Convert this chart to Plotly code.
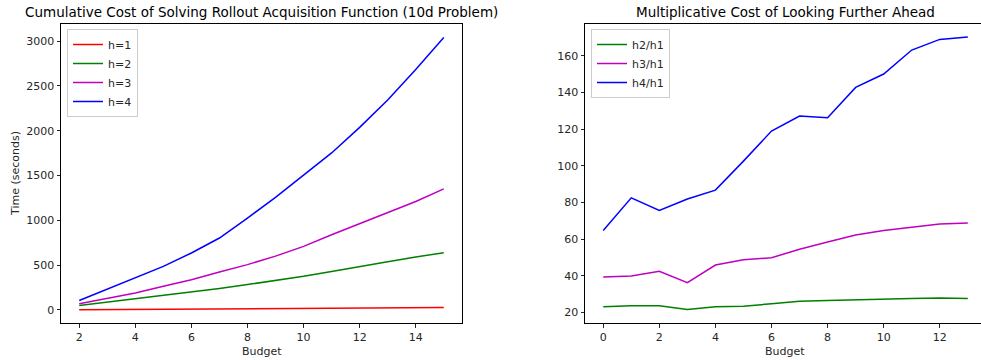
import plotly.graph_objects as go

# ---- data ----
budget = list(range(2, 16))
h1 = [1.6, 3.2, 4.8, 6.4, 8.1, 9.7, 11.6, 13.4, 15.4, 17.1, 19.0, 20.9, 22.9, 25.0]
h2 = [48, 85, 122, 158, 196, 238, 282, 327, 374, 428, 486, 538, 590, 638]
h3 = [67, 130, 189, 263, 337, 423, 505, 600, 709, 839, 961, 1088, 1210, 1351]
h4 = [104, 234, 356, 486, 635, 802, 1025, 1255, 1504, 1752, 2038, 2343, 2685, 3041]

steps = list(range(0, 14))
r2 = [23.1, 23.6, 23.6, 21.6, 23.1, 23.3, 24.7, 26.0, 26.5, 26.7, 27.1, 27.5, 27.8, 27.6]
r3 = [39.3, 39.8, 42.4, 36.2, 45.8, 48.7, 49.8, 54.4, 58.4, 62.2, 64.7, 66.5, 68.2, 68.7]
r4 = [64.7, 82.5, 75.6, 81.8, 86.7, 102.5, 118.9, 127.1, 126.2, 142.7, 150.0, 163.1, 168.9, 170.2]

left_names = ["h=1", "h=2", "h=3", "h=4"]
right_names = ["h2/h1", "h3/h1", "h4/h1"]

FONT = "DejaVu Sans"
TXT = "#262626"

fig = go.Figure()
for name, ys, col in zip(left_names, [h1, h2, h3, h4], ["#ff0000", "#008000", "#bf00bf", "#0000ff"]):
    fig.add_trace(go.Scatter(x=budget, y=ys, name=name, mode="lines",
                             line=dict(color=col, width=1.5), xaxis="x", yaxis="y", legend="legend"))
for name, ys, col in zip(right_names, [r2, r3, r4], ["#008000", "#bf00bf", "#0000ff"]):
    fig.add_trace(go.Scatter(x=steps, y=ys, name=name, mode="lines",
                             line=dict(color=col, width=1.5), xaxis="x2", yaxis="y2", legend="legend2"))

W, H = 981, 360
ax_common = dict(showgrid=False, zeroline=False, showline=True, linecolor="black", linewidth=1,
                 ticks="outside", ticklen=3.5, tickwidth=0.8, tickcolor=TXT,
                 tickfont=dict(family=FONT, size=11, color=TXT))

fig.update_layout(
    width=W, height=H, margin=dict(l=0, r=0, t=0, b=0),
    paper_bgcolor="white", plot_bgcolor="white",
    font=dict(family=FONT, color=TXT),
    xaxis=dict(domain=[61 / W, 462 / W], range=[1.35, 15.65], tickvals=[2, 4, 6, 8, 10, 12, 14],
               mirror=True, anchor="y", **ax_common),
    yaxis=dict(domain=[37 / H, 336 / H], range=[-147, 3192], tickvals=[0, 500, 1000, 1500, 2000, 2500, 3000],
               mirror=True, anchor="x", **ax_common),
    xaxis2=dict(domain=[585 / W, 1.0], range=[-0.65, 13.47], tickvals=[0, 2, 4, 6, 8, 10, 12],
                mirror=True, anchor="y2", **ax_common),
    yaxis2=dict(domain=[37 / H, 336 / H], range=[14.2, 177.3], tickvals=[20, 40, 60, 80, 100, 120, 140, 160],
                mirror=False, anchor="x2", **ax_common),
    legend=dict(x=67 / W, y=1 - 29 / H, xanchor="left", yanchor="top",
                bordercolor="#cccccc", borderwidth=1, bgcolor="white",
                font=dict(family=FONT, size=11, color=TXT), tracegroupgap=0),
    legend2=dict(x=591 / W, y=1 - 29 / H, xanchor="left", yanchor="top",
                 bordercolor="#cccccc", borderwidth=1, bgcolor="white",
                 font=dict(family=FONT, size=11, color=TXT), tracegroupgap=0),
    showlegend=True,
)

annots = [
    dict(text="Cumulative Cost of Solving Rollout Acquisition Function (10d Problem)", x=261.5 / W, y=1 - 12 / H,
         size=13.5, color="black"),
    dict(text="Multiplicative Cost of Looking Further Ahead", x=785 / W, y=1 - 12 / H, size=13.5, color="black"),
    dict(text="Budget", x=261.5 / W, y=1 - 351 / H, size=11, color=TXT),
    dict(text="Budget", x=785 / W, y=1 - 351 / H, size=11, color=TXT),
    dict(text="Time (seconds)", x=15 / W, y=1 - 174 / H, size=11, color=TXT, textangle=-90),
]
for a in annots:
    fig.add_annotation(xref="paper", yref="paper", showarrow=False, xanchor="center", yanchor="middle",
                       text=a["text"], x=a["x"], y=a["y"], textangle=a.get("textangle", 0),
                       font=dict(family=FONT, color=a["color"], size=a["size"]))

fig.write_html("out.html", config={"displayModeBar": False},
               post_script="document.body.style.margin='0';document.body.style.overflow='hidden';")
